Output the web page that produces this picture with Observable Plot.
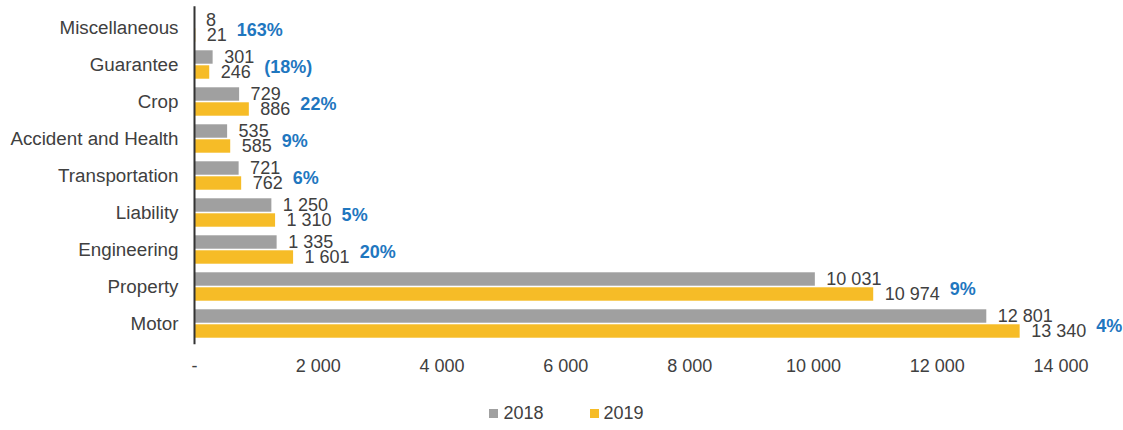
<!DOCTYPE html>
<html>
<head>
<meta charset="utf-8">
<script src="https://cdn.jsdelivr.net/npm/d3@7"></script>
<script src="https://cdn.jsdelivr.net/npm/@observablehq/plot@0.6"></script>
<style>
  body { margin: 0; background: #fff; font-family: "Liberation Sans", Arial, sans-serif; }
  #legend { display: flex; justify-content: center; gap: 46px; padding-top: 13px; padding-left: 10px; font-size: 18px; color: #404040; }
  #legend span.item { display: inline-flex; align-items: center; gap: 5px; }
  #legend span.sw { display: inline-block; width: 9px; height: 9px; }
</style>
</head>
<body>
<div id="chart"></div>
<div id="legend"></div>
<script>
const categories = ["Miscellaneous", "Guarantee", "Crop", "Accident and Health", "Transportation", "Liability", "Engineering", "Property", "Motor"];
const values2018 = [8, 301, 729, 535, 721, 1250, 1335, 10031, 12801];
const values2019 = [21, 246, 886, 585, 762, 1310, 1601, 10974, 13340];
const seriesNames = ["2018", "2019"];
const xTicks = [0, 2000, 4000, 6000, 8000, 10000, 12000, 14000];

const colors = {"2018": "#A0A0A0", "2019": "#F6BC27"};
const textColor = "#404040";
const pctColor = "#1F77BF";

const num = d => d === 0 ? "-" : d3.format(",")(d).replace(/,/g, " ");
const pct = c => {
  const s = Math.round(Math.abs(c) * 100) + "%";
  return c < 0 ? "(" + s + ")" : s;
};

const W = 1123, H = 390;
const mLeft = 194, mRight = 62.5;
const xMax = 14000;
const pxPerUnit = (W - mLeft - mRight) / xMax;
const labelDx = 11, pctGap = 10;

const ctx = document.createElement("canvas").getContext("2d");
ctx.font = "18px 'Liberation Sans', Arial, sans-serif";
const textW = s => ctx.measureText(s).width;

const rows = categories.map((c, i) => {
  const a = values2018[i], b = values2019[i];
  const endA = a + (labelDx + textW(num(a))) / pxPerUnit;
  const endB = b + (labelDx + textW(num(b))) / pxPerUnit;
  return {
    category: c, v2018: a, v2019: b,
    labelEnd: Math.max(endA, endB),
    change: b / a - 1
  };
});

const bandTop = 6.2, bandBottom = 344.3;
const step = (bandBottom - bandTop) / categories.length;
const half = step / 2;

const plot = Plot.plot({
  width: W,
  height: H,
  marginLeft: mLeft,
  marginRight: mRight,
  marginTop: bandTop,
  marginBottom: H - bandBottom,
  style: {fontFamily: "'Liberation Sans', Arial, sans-serif", fontSize: "18px", color: textColor, overflow: "visible"},
  x: {domain: [0, xMax]},
  y: {domain: categories, padding: 0},
  marks: [
    Plot.barX(rows, {y: "category", x: "v2018", fill: colors["2018"], insetTop: half - 14.5, insetBottom: half + 0.5}),
    Plot.barX(rows, {y: "category", x: "v2019", fill: colors["2019"], insetTop: half + 0.5, insetBottom: half - 14.5}),
    Plot.ruleX([0], {stroke: "#333", strokeWidth: 2}),
    Plot.text(rows, {y: "category", x: "v2018", text: d => num(d.v2018), textAnchor: "start", dx: labelDx, dy: -8, fontSize: 18, fill: textColor}),
    Plot.text(rows, {y: "category", x: "v2019", text: d => num(d.v2019), textAnchor: "start", dx: labelDx, dy: 7.5, fontSize: 18, fill: textColor}),
    Plot.text(rows, {y: "category", x: "labelEnd", text: d => pct(d.change), textAnchor: "start", dx: pctGap, dy: 2, fontSize: 18, fontWeight: "bold", fill: pctColor}),
    Plot.axisY({tickSize: 0, tickPadding: 16, fontSize: 18.8, fill: textColor, label: null}),
    Plot.axisX({ticks: xTicks, tickSize: 0, tickPadding: 14, tickFormat: num, fontSize: 18, fill: textColor, label: null})
  ]
});
document.getElementById("chart").appendChild(plot);

const legend = document.getElementById("legend");
seriesNames.forEach(s => {
  const item = document.createElement("span");
  item.className = "item";
  const sw = document.createElement("span");
  sw.className = "sw";
  sw.style.background = colors[s];
  const t = document.createElement("span");
  t.textContent = s;
  item.appendChild(sw);
  item.appendChild(t);
  legend.appendChild(item);
});
</script>
</body>
</html>
